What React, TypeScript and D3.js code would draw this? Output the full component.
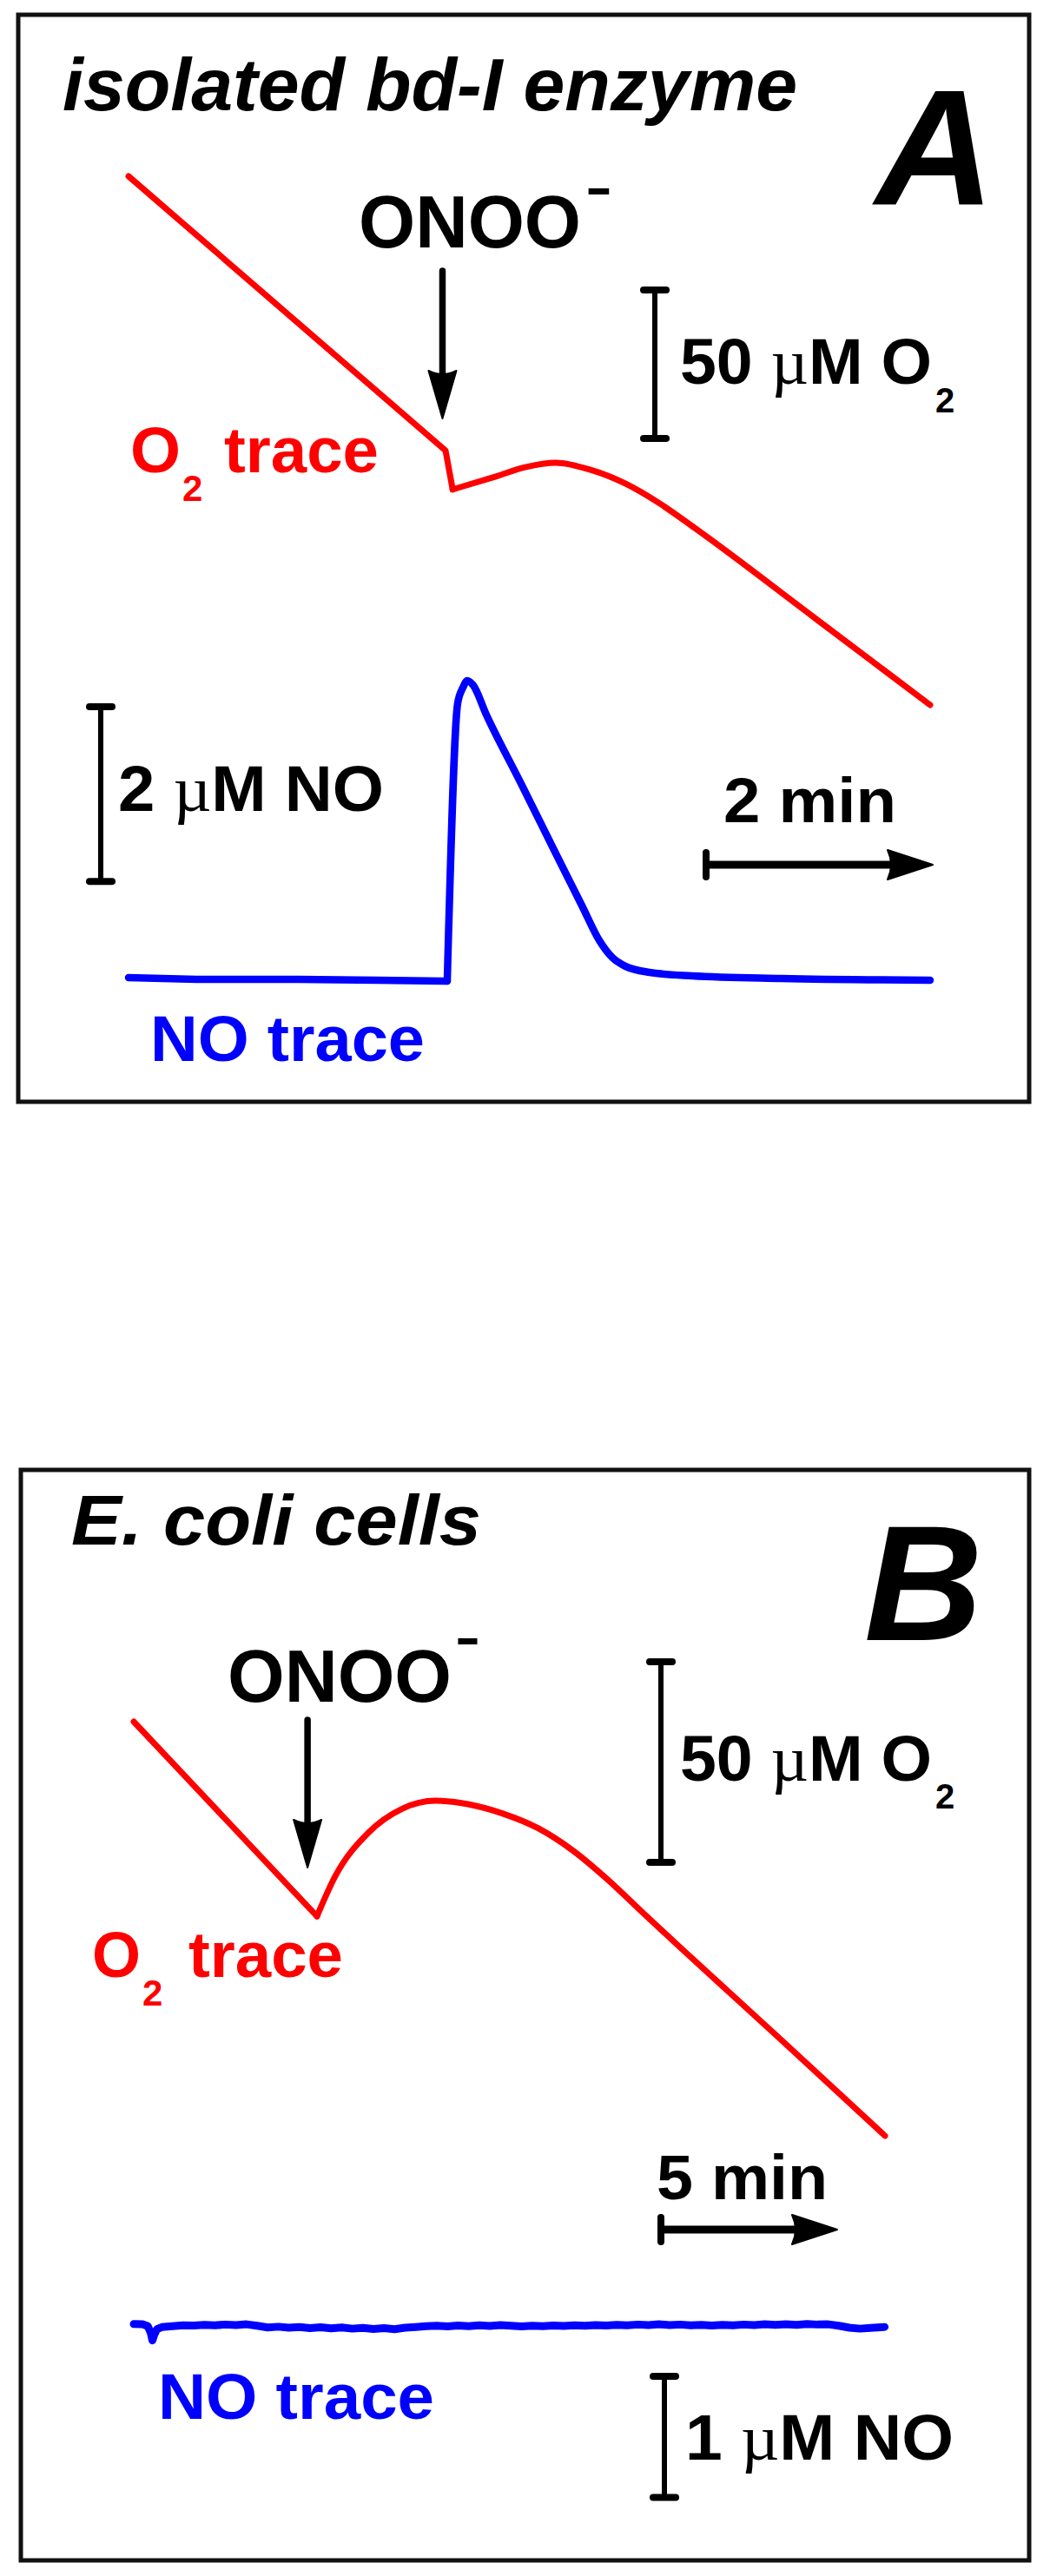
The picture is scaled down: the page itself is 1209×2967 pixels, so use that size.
import React from "react";
import * as d3 from "d3";

// ---------------- Panel A: isolated bd-I enzyme ----------------
// time in min, O2 in µM (relative), NO in µM (above baseline)
const timeA_O2 = [0, 2.797, 2.86, 3.234, 3.5, 3.77, 4.077, 4.383, 4.69, 4.996, 6.038, 7.073];
const O2_A = [250, 157.6, 144.5, 148.8, 152.0, 153.5, 151.1, 146.5, 139.7, 131.5, 101.7, 71.9];
const O2_A_smoothFrom = 2;

const timeA_NO = [0, 0.6, 1.5, 2.2, 2.812, 2.904, 2.95, 2.989, 3.04, 3.157, 3.464, 3.77, 4.0, 4.153, 4.268, 4.383, 4.598, 4.973, 5.76, 7.073];
const NO_A = [0.03, 0.01, 0.01, 0.0, -0.01, 3.17, 3.35, 3.43, 3.38, 3.04, 2.25, 1.45, 0.855, 0.457, 0.26, 0.16, 0.09, 0.05, 0.02, 0.0];
const NO_A_smoothFrom = 4;

const additionTimeA = 2.77;
const scaleBarsA = { o2: 50, no: 2, time: 2 };

// ---------------- Panel B: E. coli cells ----------------
const timeB_O2 = [0, 5.198, 5.716, 6.652, 7.613, 8.561, 9.51, 10.47, 11.48, 12.47, 13.45, 14.44, 15.42, 18.38, 21.31];
const O2_B = [250, 201.5, 211.5, 222.3, 228.3, 230.3, 229.4, 227.1, 223.4, 217.8, 210.6, 202.4, 194.4, 170.6, 146.8];
const O2_B_smoothFrom = 1;

const timeB_NO = [0, 0.25, 0.4, 0.48, 0.53, 0.58, 0.66, 0.8, 1.1, 1.4, 1.7, 2.0, 2.3, 2.6, 2.9, 3.2, 3.5, 3.8, 4.1, 4.4, 4.7, 5.0, 5.3, 5.6, 5.9, 6.2, 6.5, 6.8, 7.1, 7.4, 7.7, 8.0, 8.3, 8.6, 8.9, 9.2, 9.5, 9.8, 10.1, 10.4, 10.7, 11.0, 11.3, 11.6, 11.9, 12.2, 12.5, 12.8, 13.1, 13.4, 13.7, 14.0, 14.3, 14.6, 14.9, 15.2, 15.5, 15.8, 16.1, 16.4, 16.7, 17.0, 17.3, 17.6, 17.9, 18.2, 18.5, 18.8, 19.1, 19.4, 19.7, 20.0, 20.3, 20.6, 20.9, 21.3];
const NO_B = [0.03, 0.028, 0.012, -0.04, -0.105, -0.06, -0.012, 0.005, 0.012, 0.02, 0.018, 0.024, 0.02, 0.026, 0.022, 0.028, 0.016, 0.002, 0.008, 0.0, 0.006, -0.004, 0.004, -0.006, 0.002, -0.008, -0.002, -0.01, -0.004, -0.012, 0.0, 0.006, 0.012, 0.016, 0.01, 0.018, 0.012, 0.02, 0.014, 0.022, 0.016, 0.01, 0.016, 0.012, 0.018, 0.014, 0.02, 0.016, 0.022, 0.018, 0.024, 0.02, 0.026, 0.022, 0.028, 0.022, 0.026, 0.02, 0.024, 0.018, 0.024, 0.02, 0.026, 0.022, 0.028, 0.024, 0.028, 0.024, 0.03, 0.026, 0.028, 0.016, 0.0, -0.008, -0.002, 0.006];

const additionTimeB = 4.93;
const scaleBarsB = { o2: 50, no: 1, time: 5 };

const FONT = "'Liberation Sans', Arial, Helvetica, sans-serif";
const SERIF = "'Liberation Serif', 'Times New Roman', serif";
const RED = "#ff0000";
const BLUE = "#0000ff";

type P = [number, number];
const zip = (t: number[], v: number[]): P[] => t.map((d, i) => [d, v[i]] as P);

function T(props: any) {
  const { x, y, size, children, fill = "#000", weight = "bold", italic = false, family = FONT, len } = props;
  return (
    <text
      x={x}
      y={y}
      fontSize={size}
      fontFamily={family}
      fontWeight={weight}
      fontStyle={italic ? "italic" : "normal"}
      fill={fill}
      textLength={len}
      lengthAdjust={len ? "spacingAndGlyphs" : undefined}
    >
      {children}
    </text>
  );
}

function MuLabel({ x, y, size, pre, post, len }: { x: number; y: number; size: number; pre: string; post: string; len: number }) {
  return (
    <text
      x={x}
      y={y}
      fontSize={size}
      fontFamily={FONT}
      fontWeight="bold"
      fill="#000"
      textLength={len}
      lengthAdjust="spacingAndGlyphs"
    >
      {pre}
      <tspan fontFamily={SERIF} fontWeight="normal">µ</tspan>
      {post}
    </text>
  );
}

function VScaleBar({ x, y1, y2 }: { x: number; y1: number; y2: number }) {
  return (
    <g stroke="#000" strokeLinecap="round">
      <line x1={x} x2={x} y1={y1} y2={y2} strokeWidth={6} />
      <line x1={x - 13} x2={x + 13} y1={y1} y2={y1} strokeWidth={8} />
      <line x1={x - 13} x2={x + 13} y1={y2} y2={y2} strokeWidth={8} />
    </g>
  );
}

function TimeArrow({ x1, x2, y }: { x1: number; x2: number; y: number }) {
  const head = 52;
  return (
    <g>
      <line x1={x1} x2={x1} y1={y - 14} y2={y + 14} stroke="#000" strokeWidth={8} strokeLinecap="round" />
      <line x1={x1} x2={x2 - head + 6} y1={y} y2={y} stroke="#000" strokeWidth={9} />
      <path d={`M${x2 - head},${y - 17} Q${x2 - head + 8},${y} ${x2 - head},${y + 17} L${x2},${y} Z`} fill="#000" stroke="#000" strokeWidth={2} strokeLinejoin="round" />
    </g>
  );
}

function DownArrow({ x, y1, y2 }: { x: number; y1: number; y2: number }) {
  const head = 55;
  return (
    <g>
      <line x1={x} x2={x} y1={y1} y2={y2 - head + 6} stroke="#000" strokeWidth={7.5} strokeLinecap="round" />
      <path d={`M${x - 16},${y2 - head} Q${x},${y2 - head + 8} ${x + 16},${y2 - head} L${x},${y2} Z`} fill="#000" stroke="#000" strokeWidth={2} strokeLinejoin="round" />
    </g>
  );
}

export default function App() {
  // ---- scales panel A
  const xA = d3.scaleLinear().domain([0, 7.073]).range([148, 1071]);
  const yO2A = d3.scaleLinear().domain([71.9, 250]).range([812, 203]);
  const yNOA = d3.scaleLinear().domain([0, 3.43]).range([1129, 784]);
  // ---- scales panel B
  const xB = d3.scaleLinear().domain([0, 21.31]).range([154, 1019]);
  const yO2B = d3.scaleLinear().domain([146.8, 250]).range([2460, 1983]);
  const yNOB = d3.scaleLinear().domain([0, 1]).range([2681, 2541.5]);

  const mk = (x: any, y: any, curve: any) =>
    d3.line<P>().x((d) => x(d[0])).y((d) => y(d[1])).curve(curve);

  const o2A = zip(timeA_O2, O2_A);
  const noA = zip(timeA_NO, NO_A);
  const o2B = zip(timeB_O2, O2_B);
  const noB = zip(timeB_NO, NO_B);

  const o2A_pre = mk(xA, yO2A, d3.curveLinear)(o2A.slice(0, O2_A_smoothFrom + 1)) || "";
  const o2A_post = mk(xA, yO2A, d3.curveMonotoneX)(o2A.slice(O2_A_smoothFrom)) || "";
  const noA_pre = mk(xA, yNOA, d3.curveLinear)(noA.slice(0, NO_A_smoothFrom + 1)) || "";
  const noA_post = mk(xA, yNOA, d3.curveMonotoneX)(noA.slice(NO_A_smoothFrom)) || "";
  const o2B_pre = mk(xB, yO2B, d3.curveLinear)(o2B.slice(0, O2_B_smoothFrom + 1)) || "";
  const o2B_post = mk(xB, yO2B, d3.curveMonotoneX)(o2B.slice(O2_B_smoothFrom)) || "";
  const noB_path = mk(xB, yNOB, d3.curveLinear)(noB) || "";

  const o2BarA = Math.abs(yO2A(0) - yO2A(scaleBarsA.o2));
  const noBarA = Math.abs(yNOA(0) - yNOA(scaleBarsA.no));
  const tBarA = xA(scaleBarsA.time) - xA(0);
  const o2BarB = Math.abs(yO2B(0) - yO2B(scaleBarsB.o2));
  const noBarB = Math.abs(yNOB(0) - yNOB(scaleBarsB.no));
  const tBarB = xB(scaleBarsB.time) - xB(0);

  const axA = xA(additionTimeA);
  const axB = xB(additionTimeB);

  const lineStyle = { fill: "none", strokeLinejoin: "round" as const, strokeLinecap: "round" as const };

  return (
    <svg
      width={1209}
      height={2967}
      viewBox="0 0 1209 2967"
      style={{ position: "absolute", left: 0, top: 0, background: "#fff" }}
    >
      <rect x={0} y={0} width={1209} height={2967} fill="#fff" />

      {/* ================= Panel A ================= */}
      <rect x={21} y={17} width={1164} height={1252} fill="none" stroke="#111" strokeWidth={5} />
      <T x={72} y={127} size={86} italic len={846}>isolated bd-I enzyme</T>
      <T x={1008} y={235} size={190} italic>A</T>

      <T x={413} y={285} size={85} len={256}>ONOO</T>
      <T x={674} y={236} size={60} len={31}>-</T>
      <DownArrow x={axA} y1={312} y2={482} />

      <VScaleBar x={754} y1={334} y2={334 + o2BarA} />
      <MuLabel x={783} y={442} size={74} pre="50 " post="M O" len={290} />
      <T x={1077} y={475} size={40}>2</T>

      <path d={o2A_pre} stroke={RED} strokeWidth={7} {...lineStyle} />
      <path d={o2A_post} stroke={RED} strokeWidth={7} {...lineStyle} />

      <T x={150} y={544} size={74} fill={RED} len={58}>O</T>
      <T x={210} y={577} size={42} fill={RED}>2</T>
      <T x={258} y={544} size={74} fill={RED} len={178}>trace</T>

      <VScaleBar x={116} y1={814} y2={814 + noBarA} />
      <MuLabel x={136} y={934} size={74} pre="2 " post="M NO" len={306} />

      <path d={noA_pre} stroke={BLUE} strokeWidth={8.5} {...lineStyle} />
      <path d={noA_post} stroke={BLUE} strokeWidth={8.5} {...lineStyle} />

      <T x={173} y={1222} size={74} fill={BLUE} len={316}>NO trace</T>

      <T x={833} y={947} size={72} len={199}>2 min</T>
      <TimeArrow x1={813} x2={813 + tBarA} y={996} />

      {/* ================= Panel B ================= */}
      <rect x={24} y={1693} width={1161} height={1256} fill="none" stroke="#111" strokeWidth={5} />
      <T x={82} y={1779} size={82} italic len={472}>E. coli cells</T>
      <T x={995} y={1889} size={189} italic>B</T>

      <T x={262} y={1960} size={86} len={258}>ONOO</T>
      <T x={524} y={1906} size={60} len={29}>-</T>
      <DownArrow x={axB} y1={1981} y2={2151} />

      <VScaleBar x={761} y1={1914} y2={1914 + o2BarB} />
      <MuLabel x={783} y={2051} size={74} pre="50 " post="M O" len={290} />
      <T x={1077} y={2083} size={40}>2</T>

      <path d={o2B_pre} stroke={RED} strokeWidth={7} {...lineStyle} />
      <path d={o2B_post} stroke={RED} strokeWidth={7} {...lineStyle} />

      <T x={106} y={2277} size={74} fill={RED} len={56}>O</T>
      <T x={164} y={2310} size={42} fill={RED}>2</T>
      <T x={217} y={2277} size={74} fill={RED} len={178}>trace</T>

      <T x={756} y={2533} size={72} len={197}>5 min</T>
      <TimeArrow x1={761} x2={761 + tBarB} y={2568} />

      <path d={noB_path} stroke={BLUE} strokeWidth={9} {...lineStyle} />

      <T x={182} y={2786} size={74} fill={BLUE} len={318}>NO trace</T>

      <VScaleBar x={765} y1={2737} y2={2737 + noBarB} />
      <MuLabel x={789} y={2833} size={74} pre="1 " post="M NO" len={309} />
    </svg>
  );
}
